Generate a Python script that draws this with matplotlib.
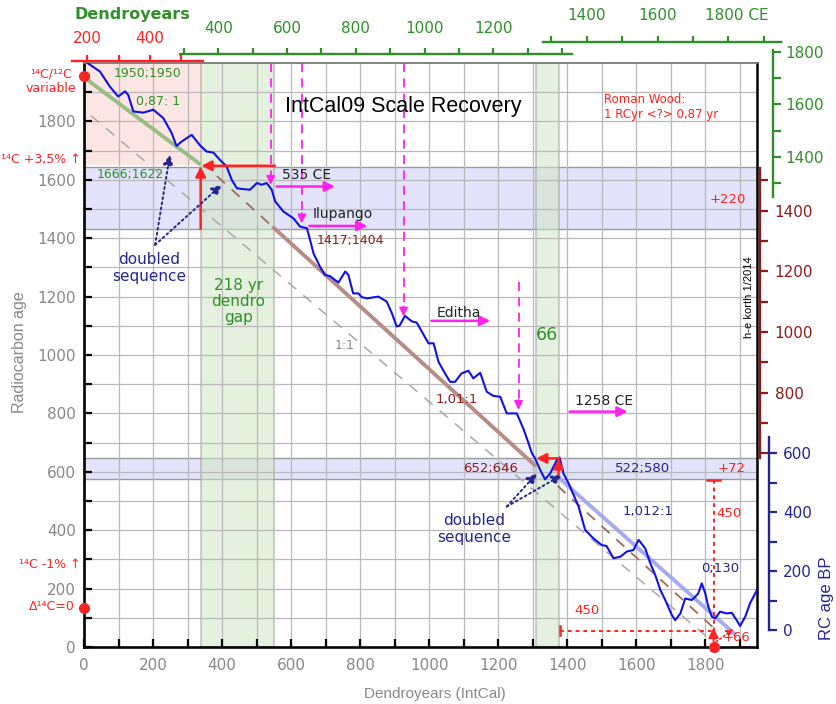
import matplotlib
matplotlib.use("Agg")
import matplotlib.pyplot as plt
from matplotlib.patches import Rectangle

# ---------------- data ----------------
# IntCal09 calibration curve (dendro years vs. radiocarbon age)
calib_x = [10, 46, 75, 99, 119, 128, 143, 172, 201, 230, 254, 268, 283, 312, 336,
           355, 375, 394, 413, 428, 443, 462, 481, 501, 515, 529, 544, 554, 578, 607,
           626, 646, 655, 665, 684, 698, 713, 737, 757, 766, 780, 795, 805, 820, 853,
           877, 892, 906, 914, 930, 950, 964, 979, 998, 1013, 1027, 1046, 1061, 1075,
           1094, 1114, 1128, 1148, 1167, 1186, 1206, 1225, 1254, 1273, 1283, 1298,
           1307, 1322, 1336, 1351, 1370, 1378, 1389, 1404, 1433, 1452, 1476, 1500,
           1514, 1534, 1554, 1573, 1592, 1607, 1626, 1641, 1655, 1670, 1684, 1703,
           1713, 1728, 1742, 1761, 1771, 1780, 1790, 1800, 1809, 1819, 1829, 1843,
           1862, 1877, 1891, 1901, 1916, 1930, 1950]
calib_y = [2000, 1971, 1919, 1885, 1903, 1891, 1834, 1830, 1840, 1811, 1760, 1716, 1731,
           1754, 1718, 1697, 1693, 1668, 1646, 1600, 1571, 1568, 1566, 1589, 1583, 1589,
           1566, 1526, 1491, 1468, 1440, 1434, 1394, 1348, 1302, 1274, 1270, 1248, 1286,
           1274, 1211, 1211, 1198, 1194, 1200, 1183, 1143, 1098, 1100, 1134, 1115, 1111,
           1080, 1040, 1040, 977, 937, 908, 908, 937, 946, 920, 939, 874, 860, 857, 800,
           800, 748, 715, 663, 646, 606, 574, 595, 640, 649, 595, 561, 481, 401, 372,
           349, 346, 304, 309, 327, 332, 367, 338, 286, 247, 195, 161, 110, 92, 115,
           166, 161, 172, 184, 218, 184, 138, 104, 98, 121, 115, 117, 92, 72, 104, 150, 195]

# reference lines (end points)
roman_x, roman_y = [10, 338], [1942, 1652]          # 0,87:1
one_to_one_x, one_to_one_y = [20, 1815], [1820, 25]  # 1:1
rate101_x = [385, 550, 1305, 1372, 1830]              # 1,01:1 (dashed / solid / dashed)
rate1012_x, rate1012_y = [1380, 1885], [575, 45]      # 1,012:1

# shaded ranges
gap_ranges = [(340, 550), (1310, 1376)]
band_ranges = [(1430, 1645), (576, 648)]
roman_zone = (0, 340, 1650, 2000)

# event markers
event_drop_x = [541, 631, 926, 1259]
event_drop_top = [2000, 2000, 2000, 1251]
event_drop_tip = [1583, 1451, 1132, 812]
event_names = ["535 CE", "Ilupango", "Editha", "1258 CE"]
event_arrow_x0 = [558, 653, 1007, 1407]
event_arrow_x1 = [727, 821, 1177, 1575]
event_arrow_y = [1577, 1442, 1117, 806]
event_label_pos = [(573, 1617, "left"), (662, 1482, "left"), (1085, 1143, "center"),
                   (1507, 844, "center")]

# ---------------- colours ----------------
RED = "#ff2222"
DRED = "#8e1c1c"
NAVY = "#25258f"
GREEN = "#2f8f2a"
MAG = "#ff22ee"
BLUE = "#1010e8"
GRAYTXT = "#888888"

W, H = 837, 704
fig = plt.figure(figsize=(W / 100, H / 100), dpi=100)
fig.patch.set_facecolor("white")
plt.rcParams["font.family"] = ["DejaVu Sans"]

ax = fig.add_axes([84 / W, 1 - 647 / H, (757 - 84) / W, (647 - 63) / H])
ax.set_xlim(0, 1950)
ax.set_ylim(0, 2000)
ax.set_axisbelow(True)

# shaded areas
x0, x1, y0, y1 = roman_zone
ax.add_patch(Rectangle((x0, y0), x1 - x0, y1 - y0, facecolor="#fce6e3", edgecolor="none", zorder=0.1))
for lo, hi in band_ranges:
    ax.add_patch(Rectangle((0, lo), 1950, hi - lo, facecolor="#e3e3fb", edgecolor="#9a9a9a",
                           lw=1.0, zorder=0.15))
for lo, hi in gap_ranges:
    ax.add_patch(Rectangle((lo, 0), hi - lo, 2000, facecolor="#cfe6c4", alpha=0.55,
                           edgecolor="#a0a0a0", lw=1.3, zorder=0.2))

# axes styling
ax.set_xticks(range(0, 1801, 200))
ax.set_xticks(range(100, 1901, 100), minor=True)
ax.set_yticks(range(0, 1801, 200))
ax.set_yticks(range(100, 1901, 100), minor=True)
ax.grid(True, which="both", color="#b9b9b9", lw=0.9)
ax.tick_params(which="both", direction="in", length=5.5, width=1.6, color="black",
               labelcolor=GRAYTXT, labelsize=11, top=False, right=False)
ax.tick_params(axis="x", pad=8)
ax.tick_params(axis="y", pad=6)
ax.tick_params(which="minor", labelleft=False, labelbottom=False)
for s in ("left", "bottom"):
    ax.spines[s].set_linewidth(1.9)
    ax.spines[s].set_color("black")
ax.spines["right"].set_linewidth(1.8)
ax.spines["right"].set_color("black")
ax.spines["top"].set_linewidth(1.3)
ax.spines["top"].set_color("#7a7a7a")

# reference lines
ax.plot(roman_x, roman_y, color="#98bd86", lw=2.8, solid_capstyle="butt", zorder=3)
ax.plot(one_to_one_x, one_to_one_y, color="#a8a8a8", lw=1.1, ls=(0, (7, 6)), zorder=3)


def rate101(x):
    return 1600 - 1.075 * (x - 397)


ax.plot(rate101_x[0:2], [rate101(v) for v in rate101_x[0:2]], color="#a06a5e", lw=1.3,
        ls=(0, (6, 5)), zorder=3)
ax.plot(rate101_x[1:3], [rate101(v) for v in rate101_x[1:3]], color="#b88c86", lw=2.8,
        zorder=3)
ax.plot(rate101_x[3:5], [rate101(v) for v in rate101_x[3:5]], color="#a06a5e", lw=1.3,
        ls=(0, (6, 5)), zorder=3)
ax.plot(rate1012_x, rate1012_y, color="#9ea2ee", lw=2.8, alpha=0.9, zorder=3)

# calibration curve
ax.plot(calib_x, calib_y, color=BLUE, lw=1.5, zorder=5)


def arrow(xa, ya, xb, yb, color, lw=1.5, ls="-", hl=0.6, hw=0.3, z=6):
    ax.annotate("", xy=(xb, yb), xytext=(xa, ya), zorder=z,
                arrowprops=dict(arrowstyle=f"-|>,head_length={hl},head_width={hw}",
                                color=color, lw=lw, linestyle=ls, shrinkA=0, shrinkB=0))


# red shift indicators
arrow(553, 1648, 340, 1648, RED, lw=1.8)
arrow(338, 1432, 338, 1646, RED, lw=1.8)
arrow(1378, 646, 1310, 646, RED, lw=1.8)
arrow(1375, 589, 1375, 646, RED, lw=1.8)

# 450 year offsets
ax.plot([1824, 1824], [0, 572], color=RED, lw=1.4, ls=(0, (2, 2)), zorder=6)
ax.plot([1806, 1842], [572, 572], color=RED, lw=1.8, zorder=6)
ax.plot([1380, 1824], [56, 56], color=RED, lw=1.4, ls=(0, (2, 2)), zorder=6)
ax.plot([1380, 1380], [40, 72], color=RED, lw=1.8, zorder=6)
arrow(1824, 20, 1824, 66, RED, lw=1.4)
arrow(1832, 18, 1882, 62, RED, lw=1.2, ls=":", hl=0.4, hw=0.2)

# red reference dots
ax.plot([0, 0, 1824], [1955, 135, 0], "o", color=RED, ms=7, clip_on=False, zorder=10)

# event markers
for xe, top, tip in zip(event_drop_x, event_drop_top, event_drop_tip):
    ax.plot([xe, xe], [top, tip + 30], color=MAG, lw=1.3, ls=(0, (5, 3.5)), zorder=6)
    arrow(xe, tip + 35, xe, tip, MAG, lw=1.3, hl=0.5, hw=0.25)
for xa, xb, ye in zip(event_arrow_x0, event_arrow_x1, event_arrow_y):
    arrow(xa, ye, xb, ye, MAG, lw=1.8, hl=0.6, hw=0.3)
for name, (xt, yt, ha) in zip(event_names, event_label_pos):
    ax.text(xt, yt, name, ha=ha, va="center", fontsize=10, color="#222222", zorder=7)

# doubled sequence pointers
for (xa, ya), tips in [((206, 1377), [(249, 1686), (399, 1583)]),
                       ((1225, 481), [(1312, 594), (1385, 589)])]:
    for xb, yb in tips:
        arrow(xa, ya, xb, yb, NAVY, lw=1.4, ls=":", hl=0.6, hw=0.3)

# annotations
ax.text(925, 1850, "IntCal09 Scale Recovery", fontsize=15.5, family="Liberation Sans",
        ha="center", va="center", color="black", zorder=7)
ax.text(1507, 1850, "Roman Wood:\n1 RCyr <?> 0,87 yr", fontsize=8.5, color=RED,
        ha="left", va="center", linespacing=1.15, zorder=7)
ax.text(183, 1963, "1950;1950", fontsize=9, color=GREEN, ha="center", va="center")
ax.text(216, 1868, "0,87: 1", fontsize=9, color=GREEN, ha="center", va="center")
ax.text(133, 1617, "1666;1622", fontsize=9, color=GREEN, ha="center", va="center", zorder=7)
ax.text(190, 1297, "doubled\nsequence", fontsize=11, color=NAVY, ha="center", va="center",
        linespacing=1.15)
ax.text(447, 1184, "218 yr\ndendro\ngap", fontsize=11, color=GREEN, ha="center", va="center",
        linespacing=1.1)
ax.text(772, 1392, "1417;1404", fontsize=9, color=DRED, ha="center", va="center")
ax.text(754, 1032, "1:1", fontsize=9, color="#8a8a8a", ha="center", va="center")
ax.text(1341, 1069, "66", fontsize=12.5, color=GREEN, ha="center", va="center")
ax.text(1080, 846, "1,01:1", fontsize=9.5, color=DRED, ha="center", va="center")
ax.text(1177, 612, "652;646", fontsize=9.5, color=DRED, ha="center", va="center", zorder=7)
ax.text(1130, 403, "doubled\nsequence", fontsize=11, color=NAVY, ha="center", va="center",
        linespacing=1.15)
ax.text(1619, 612, "522;580", fontsize=9.5, color=NAVY, ha="center", va="center", zorder=7)
ax.text(1876, 613, "+72", fontsize=9.5, color=RED, ha="center", va="center", zorder=7)
ax.text(1864, 1531, "+220", fontsize=9.5, color=RED, ha="center", va="center", zorder=7)
ax.text(1633, 464, "1,012:1", fontsize=9.5, color=NAVY, ha="center", va="center")
ax.text(1842, 270, "0;130", fontsize=9.5, color=NAVY, ha="center", va="center")
ax.text(1868, 456, "450", fontsize=9.5, color=RED, ha="center", va="center")
ax.text(1457, 124, "450", fontsize=9.5, color=RED, ha="center", va="center")
ax.text(1892, 33, "+66", fontsize=9.5, color=RED, ha="center", va="center", zorder=7)
ax.text(1927, 1199, "h-e korth 1/2014", fontsize=8, family="Liberation Sans", rotation=90,
        ha="center", va="center", color="black")

# left side notes
fig.text(51 / W, 1 - 81 / H, "¹⁴C/¹²C\nvariable", fontsize=9, color=RED, ha="center",
         va="center", linespacing=1.1)
fig.text(81 / W, 1 - 159 / H, "¹⁴C +3,5% ↑", fontsize=9, color=RED, ha="right", va="center")
fig.text(81 / W, 1 - 564 / H, "¹⁴C -1% ↑", fontsize=9, color=RED, ha="right", va="center")
fig.text(75 / W, 1 - 607 / H, "Δ¹⁴C=0", fontsize=9, color=RED, ha="right", va="center")

# axis titles
fig.text(20 / W, 1 - 352 / H, "Radiocarbon age", rotation=90, fontsize=11.5,
         family="Liberation Sans", color=GRAYTXT, ha="center", va="center")
fig.text(435 / W, 1 - 694 / H, "Dendroyears (IntCal)", fontsize=11, family="Liberation Sans",
         color=GRAYTXT, ha="center", va="center")
fig.text(132 / W, 1 - 15 / H, "Dendroyears", fontsize=11.5, fontweight="bold", color=GREEN,
         ha="center", va="center")
fig.text(705 / W, 1 - 15 / H, "1800 CE", fontsize=11, color=GREEN, ha="left", va="center")
fig.text(827 / W, 1 - 598 / H, "RC age BP", rotation=90, fontsize=12,
         family="Liberation Sans", color=NAVY, ha="center", va="center")


# ---------------- secondary scales ----------------
def top_scale(px0, px1, py, lim, color, majors, labels, minors, pad):
    a = fig.add_axes([px0 / W, 1 - py / H, (px1 - px0) / W, 1e-5])
    a.set_xlim(lim)
    a.patch.set_visible(False)
    for s in ("left", "right", "bottom"):
        a.spines[s].set_visible(False)
    a.spines["top"].set_color(color)
    a.spines["top"].set_linewidth(1.7)
    a.xaxis.set_ticks_position("top")
    a.set_xticks(majors)
    a.set_xticklabels(labels)
    a.set_xticks(minors, minor=True)
    a.set_yticks([])
    a.tick_params(axis="x", which="both", direction="out", length=4, width=1.6, color=color,
                  labelcolor=color, labelsize=11, pad=pad)


def side_scale(px, py_top, py_bot, lim, color, majors, minors, pad):
    a = fig.add_axes([px / W, 1 - py_bot / H, 1e-5, (py_bot - py_top) / H])
    a.set_ylim(lim)
    a.patch.set_visible(False)
    for s in ("left", "top", "bottom"):
        a.spines[s].set_visible(False)
    a.spines["right"].set_color(color)
    a.spines["right"].set_linewidth(1.7)
    a.yaxis.tick_right()
    a.set_yticks(majors)
    a.set_yticks(minors, minor=True)
    a.set_xticks([])
    a.tick_params(axis="y", which="both", direction="out", length=5.5, width=1.6, color=color,
                  labelcolor=color, labelsize=11, pad=pad)


top_scale(180, 571.7, 54.3, (288.6, 1428), GREEN, [400, 600, 800, 1000, 1200],
          ["400", "600", "800", "1000", "1200"], [300, 500, 700, 900, 1100, 1300, 1400], 9.5)
top_scale(71.7, 202.7, 61, (150.2, 568), RED, [200, 400], ["200", "400"], [300, 500], 6.5)
top_scale(543.3, 780.7, 42, (1277, 1948), GREEN, [1400, 1600, 1800], ["1400", "1600", ""],
          [1300, 1500, 1700, 1900], 9.5)

side_scale(773, 50, 197, (1248, 1806), GREEN, [1400, 1600, 1800], [1300, 1500, 1700], 3)
side_scale(760, 168, 458, (584.5, 1540.8), DRED, [800, 1000, 1200, 1400],
           [600, 700, 900, 1100, 1300, 1500], 5)
side_scale(768.5, 436.7, 630, (0, 656), NAVY, [0, 200, 400, 600], [100, 300, 500], 5)

fig.savefig("out.png", dpi=100)
